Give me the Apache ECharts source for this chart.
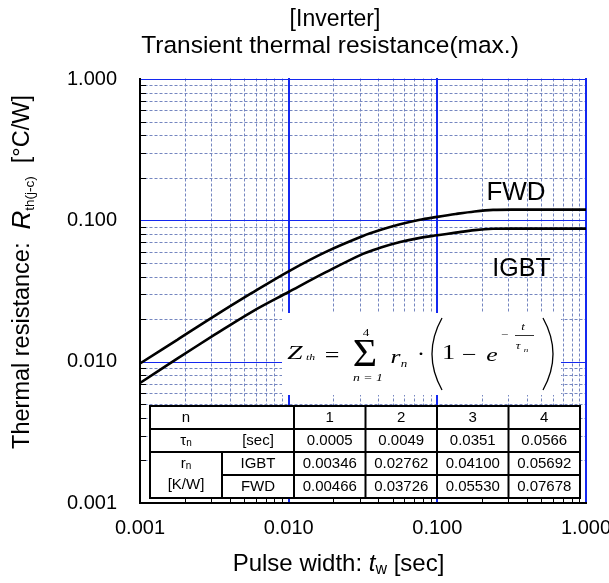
<!DOCTYPE html>
<html>
<head>
<meta charset="utf-8">
<script src="https://cdn.jsdelivr.net/npm/echarts@6.0.0/dist/echarts.min.js"></script>
<style>
html,body{margin:0;padding:0;background:#fff;}
#chart{width:609px;height:583px;}
</style>
</head>
<body>
<div id="chart"></div>
<script>
// ---- data ----
const pulseWidth = [0.001, 0.00178, 0.00316, 0.00562, 0.01, 0.0178, 0.0316, 0.0422, 0.0562, 0.075, 0.1, 0.133, 0.178, 0.237, 0.316, 0.562, 1.0];
const fwdValues  = [0.00971, 0.01427, 0.02099, 0.03051, 0.0436, 0.05984, 0.07754, 0.0860, 0.09376, 0.1005, 0.1058, 0.1109, 0.1156, 0.1186, 0.1191, 0.1191, 0.1191];
const igbtValues = [0.00706, 0.01051, 0.01545, 0.02246, 0.03112, 0.04295, 0.05794, 0.06445, 0.07027, 0.07484, 0.07834, 0.08185, 0.08531, 0.0871, 0.0873, 0.0873, 0.0873];
const axisEdge = [0.001];                 // left / bottom axis lines
const majorLines = [0.01, 0.1, 1];        // decade grid lines
const decades = [0.001, 0.01, 0.1];
const minorMultipliers = [2, 3, 4, 5, 6, 7, 8, 9];
const tableN = ['1', '2', '3', '4'];
const tauValues = ['0.0005', '0.0049', '0.0351', '0.0566'];
const rIGBT = ['0.00346', '0.02762', '0.04100', '0.05692'];
const rFWD = ['0.00466', '0.03726', '0.05530', '0.07678'];

const minorValues = [];
decades.forEach(d => minorMultipliers.forEach(m => minorValues.push(+(d * m).toPrecision(3))));

const SANS = 'Liberation Sans, Arial, sans-serif';
const SERIF = 'Liberation Serif, Times New Roman, serif';
const MINOR_COLOR = '#7586c0';
const MAJOR_COLOR = '#1428f0';

const chart = echarts.init(document.getElementById('chart'), null, {renderer: 'canvas'});

function crisp(v, w) { return (w % 2 === 0) ? Math.round(v) : Math.round(v) + 0.5; }

function gridSeries(name, values, vertical, color, width, dash, tickLen, z) {
  return {
    name: name, type: 'custom', coordinateSystem: 'cartesian2d', silent: true, z: z,
    data: values.map(v => vertical ? [v, 0.01] : [0.01, v]),
    renderItem: (params, api) => {
      const cs = params.coordSys;
      const children = [];
      const ls = {stroke: color, lineWidth: width};
      if (dash) ls.lineDash = dash;
      if (vertical) {
        const x = crisp(api.coord([api.value(0), 0.01])[0], width);
        children.push({type: 'line', shape: {x1: x, y1: cs.y - width / 2, x2: x, y2: cs.y + cs.height + width / 2}, style: ls});
        if (tickLen) children.push({type: 'line', shape: {x1: x, y1: cs.y + cs.height - tickLen, x2: x, y2: cs.y + cs.height}, style: {stroke: '#000', lineWidth: 1}});
      } else {
        const y = crisp(api.coord([0.01, api.value(1)])[1], width);
        children.push({type: 'line', shape: {x1: cs.x - width / 2, y1: y, x2: cs.x + cs.width + width / 2, y2: y}, style: ls});
        if (tickLen) children.push({type: 'line', shape: {x1: cs.x, y1: y, x2: cs.x + tickLen, y2: y}, style: {stroke: '#000', lineWidth: 1}});
      }
      return {type: 'group', children: children};
    }
  };
}

// ---- table graphics ----
const colX = [150, 222, 294, 365.5, 437, 508.5, 580];
const rowY = [406, 429, 452, 475, 498];
const tableEls = [];
tableEls.push({type: 'rect', shape: {x: colX[0], y: rowY[0], width: colX[6] - colX[0], height: rowY[4] - rowY[0]}, style: {fill: '#fff', stroke: '#000', lineWidth: 2}});
function hline(x1, x2, y) { tableEls.push({type: 'line', shape: {x1: x1, y1: y, x2: x2, y2: y}, style: {stroke: '#000', lineWidth: 2}}); }
function vline(x, y1, y2) { tableEls.push({type: 'line', shape: {x1: x, y1: y1, x2: x, y2: y2}, style: {stroke: '#000', lineWidth: 2}}); }
hline(colX[0], colX[6], rowY[1]);
hline(colX[0], colX[6], rowY[2]);
hline(colX[1], colX[6], rowY[3]);
vline(colX[1], rowY[2], rowY[4]);
for (let i = 2; i <= 5; i++) vline(colX[i], rowY[0], rowY[4]);
function cellText(txt, cx, cy, rich) {
  tableEls.push({type: 'text', x: cx, y: cy, style: {text: txt, rich: rich || {}, fill: '#000', font: '15px ' + SANS, align: 'center', verticalAlign: 'middle'}});
}
const subRich = {b: {fontSize: 15, fontFamily: SANS}, s: {fontSize: 10, fontFamily: SANS, verticalAlign: 'bottom', lineHeight: 12}};
function mid(a, b) { return (a + b) / 2; }
cellText('n', mid(colX[0], colX[1]), mid(rowY[0], rowY[1]));
cellText('{b|τ}{s|n}', mid(colX[0], colX[1]), mid(rowY[1], rowY[2]), subRich);
cellText('[sec]', mid(colX[1], colX[2]), mid(rowY[1], rowY[2]));
cellText('{b|r}{s|n}', mid(colX[0], colX[1]), rowY[2] + 12, subRich);
cellText('[K/W]', mid(colX[0], colX[1]), rowY[3] + 10);
cellText('IGBT', mid(colX[1], colX[2]), mid(rowY[2], rowY[3]));
cellText('FWD', mid(colX[1], colX[2]), mid(rowY[3], rowY[4]));
for (let i = 0; i < 4; i++) {
  const cx = mid(colX[i + 2], colX[i + 3]);
  cellText(tableN[i], cx, mid(rowY[0], rowY[1]));
  cellText(tauValues[i], cx, mid(rowY[1], rowY[2]));
  cellText(rIGBT[i], cx, mid(rowY[2], rowY[3]));
  cellText(rFWD[i], cx, mid(rowY[3], rowY[4]));
}

// ---- formula graphics ----
function ftxt(t, x, y, size, opts) {
  opts = opts || {};
  return {type: 'text', x: x, y: y, scaleX: opts.sx || 1, scaleY: 1,
    style: {text: t, fill: '#000', fontSize: size, fontFamily: SERIF, fontStyle: opts.italic ? 'italic' : 'normal',
      align: opts.align || 'center', verticalAlign: 'middle'}};
}
const formulaEls = [
  {type: 'rect', shape: {x: 282, y: 313, width: 279, height: 82}, style: {fill: '#fff'}},
  ftxt('Z', 295, 354, 19, {italic: true, sx: 1.45}),
  ftxt('th', 310.5, 358, 9, {italic: true, sx: 1.3}),
  ftxt('=', 332, 357, 20, {sx: 1.3}),
  ftxt('Σ', 365, 355, 40, {sx: 1.05}),
  ftxt('4', 366, 333, 11, {sx: 1.2}),
  ftxt('n = 1', 368, 378, 11, {italic: true, sx: 1.25}),
  ftxt('r', 395.5, 358, 19, {italic: true, sx: 1.35}),
  ftxt('n', 404, 364, 10, {italic: true, sx: 1.3}),
  ftxt('·', 421, 356, 20, {sx: 1.2}),
  {type: 'bezierCurve', shape: {x1: 442, y1: 318, cpx1: 422, cpy1: 354, x2: 442, y2: 390}, style: {stroke: '#000', lineWidth: 1.3, fill: null}},
  ftxt('1', 448.5, 353, 22, {sx: 1.2}),
  ftxt('−', 469, 356, 20, {sx: 1.3}),
  ftxt('e', 492, 356, 19, {italic: true, sx: 1.35}),
  ftxt('−', 505, 335, 10, {sx: 1.3}),
  ftxt('t', 523, 327, 10, {italic: true, sx: 1.3}),
  {type: 'line', shape: {x1: 515, y1: 335.5, x2: 534, y2: 335.5}, style: {stroke: '#000', lineWidth: 0.8}},
  ftxt('τ', 518, 346, 10, {italic: true, sx: 1.3}),
  ftxt('n', 526, 350, 7, {italic: true, sx: 1.3}),
  {type: 'bezierCurve', shape: {x1: 543, y1: 318, cpx1: 563, cpy1: 354, x2: 543, y2: 390}, style: {stroke: '#000', lineWidth: 1.3, fill: null}}
];

const textEls = [
  {type: 'text', x: 335, y: 20, style: {text: '[Inverter]', fill: '#000', font: '23px ' + SANS, align: 'center', verticalAlign: 'middle'}},
  {type: 'text', x: 330, y: 46, style: {text: 'Transient thermal resistance(max.)', fill: '#000', font: '24.5px ' + SANS, align: 'center', verticalAlign: 'middle'}},
  {type: 'text', x: 338.5, y: 564, style: {
    text: '{a|Pulse width: }{t|t}{s|w}{a| [sec]}', align: 'center', verticalAlign: 'middle',
    rich: {a: {fontSize: 24, fontFamily: SANS, fill: '#000', lineHeight: 28},
           t: {fontSize: 24, fontFamily: SANS, fontStyle: 'italic', fill: '#000', lineHeight: 28},
           s: {fontSize: 16, fontFamily: SANS, fill: '#000', verticalAlign: 'bottom', lineHeight: 15}}}},
  {type: 'text', x: 23, y: 272, rotation: Math.PI / 2, style: {
    text: '{a|Thermal resistance:  }{r|R}{s|th(j-c)}{a|  [°C/W]}', align: 'center', verticalAlign: 'middle',
    rich: {a: {fontSize: 23.5, fontFamily: SANS, fill: '#000', lineHeight: 28},
           r: {fontSize: 26, fontFamily: SANS, fontStyle: 'italic', fill: '#000', lineHeight: 28},
           s: {fontSize: 13.5, fontFamily: SANS, fill: '#000', verticalAlign: 'bottom', lineHeight: 14}}}},
  {type: 'text', x: 516, y: 193, style: {text: 'FWD', fill: '#000', font: '26px ' + SANS, align: 'center', verticalAlign: 'middle'}},
  {type: 'text', x: 521.5, y: 269.5, style: {text: 'IGBT', fill: '#000', font: '25px ' + SANS, align: 'center', verticalAlign: 'middle'}}
];

const graphicEls = [].concat(formulaEls, tableEls, textEls).map(e => Object.assign({z: 100}, e));

const axisCommon = {
  type: 'log', logBase: 10, min: 0.001, max: 1,
  axisLine: {show: false},
  axisTick: {show: false},
  minorTick: {show: false},
  splitLine: {show: false},
  minorSplitLine: {show: false},
  axisLabel: {color: '#000', fontFamily: SANS, fontSize: 20, formatter: v => Number(v).toFixed(3)}
};

chart.setOption({
  animation: false,
  backgroundColor: '#fff',
  grid: {left: 140, top: 79, width: 446, height: 424, containLabel: false, outerBoundsMode: 'none'},
  xAxis: Object.assign({}, axisCommon, {axisLabel: Object.assign({}, axisCommon.axisLabel, {margin: 15})}),
  yAxis: Object.assign({}, axisCommon, {axisLabel: Object.assign({}, axisCommon.axisLabel, {margin: 23})}),
  series: [
    gridSeries('minorX', minorValues, true, MINOR_COLOR, 1, [3, 2], 5, 1),
    gridSeries('minorY', minorValues, false, MINOR_COLOR, 1, [3, 2], 6, 1),
    gridSeries('majorX', majorLines, true, MAJOR_COLOR, 2, null, 0, 2),
    gridSeries('majorY', majorLines, false, MAJOR_COLOR, 1, null, 0, 2),
    gridSeries('axisX', axisEdge, true, '#000', 2, null, 0, 3),
    gridSeries('axisY', axisEdge, false, '#000', 2, null, 0, 3),
    {name: 'FWD', type: 'line', z: 5, data: pulseWidth.map((t, i) => [t, fwdValues[i]]), showSymbol: false, smooth: 0.35,
     lineStyle: {color: '#000', width: 2.6}},
    {name: 'IGBT', type: 'line', z: 5, data: pulseWidth.map((t, i) => [t, igbtValues[i]]), showSymbol: false, smooth: 0.35,
     lineStyle: {color: '#000', width: 2.6}}
  ],
  graphic: graphicEls
});
</script>
</body>
</html>
